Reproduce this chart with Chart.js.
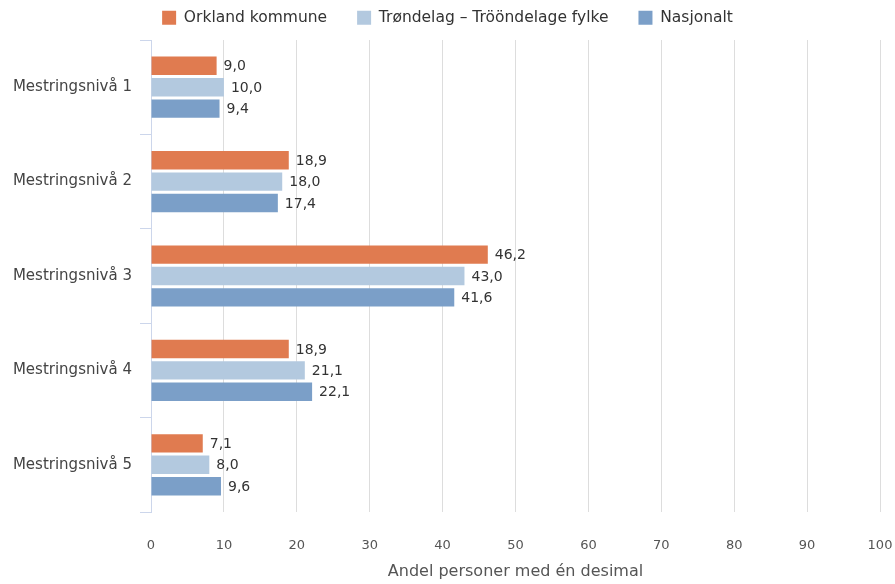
<!DOCTYPE html>
<html>
<head>
<meta charset="utf-8">
<script src="https://cdn.jsdelivr.net/npm/chart.js@4"></script>
<style>
  html, body { margin: 0; padding: 0; background: #fff; }
  #wrap { width: 895px; height: 584px; }
</style>
</head>
<body>
<div id="wrap"><canvas id="myChart"></canvas></div>
<script>
Chart.defaults.font.family = "'DejaVu Sans', Verdana, sans-serif";
Chart.defaults.font.size = 14;
Chart.defaults.color = '#444';

// data
const categories = ['Mestringsnivå 1', 'Mestringsnivå 2', 'Mestringsnivå 3', 'Mestringsnivå 4', 'Mestringsnivå 5'];
const orkland = [9.0, 18.9, 46.2, 18.9, 7.1];
const trondelag = [10.0, 18.0, 43.0, 21.1, 8.0];
const nasjonalt = [9.4, 17.4, 41.6, 22.1, 9.6];
const xTicks = [0, 10, 20, 30, 40, 50, 60, 70, 80, 90, 100];

// verdier ved enden av stolpene
const barLabels = {
    id: 'barLabels',
    afterDatasetsDraw(chart) {
        const c = chart.ctx;
        c.save();
        c.font = "14px 'DejaVu Sans', Verdana, sans-serif";
        c.fillStyle = '#333';
        c.textBaseline = 'middle';
        c.textAlign = 'left';
        chart.data.datasets.forEach((ds, i) => {
            chart.getDatasetMeta(i).data.forEach((bar, j) => {
                c.fillText(ds.data[j].toFixed(1).replace('.', ','), bar.x + 7, bar.y + 1);
            });
        });
        c.restore();
    }
};

// fast høyde på legend-boksen
const legendSpace = {
    id: 'legendSpace',
    beforeInit(chart) {
        const fit = chart.legend.fit;
        chart.legend.fit = function () {
            fit.bind(chart.legend)();
            this.height = 60;
        };
    }
};

var ctx = document.getElementById('myChart').getContext('2d');
var myChart = new Chart(ctx, {
    type: 'bar',
    data: {
        labels: categories,
        datasets: [{
            label: 'Orkland kommune',
            data: orkland,
            backgroundColor: '#E07B50'
        }, {
            label: 'Trøndelag – Trööndelage fylke',
            data: trondelag,
            backgroundColor: '#B3C9DF'
        }, {
            label: 'Nasjonalt',
            data: nasjonalt,
            backgroundColor: '#7B9FC8'
        }]
    },
    options: {
        indexAxis: 'y',
        responsive: true,
        maintainAspectRatio: false,
        animation: false,
        layout: { padding: { top: -20, right: 0, bottom: 0, left: 0 } },
        datasets: {
            bar: { categoryPercentage: 0.68, barPercentage: 0.86 }
        },
        plugins: {
            legend: {
                position: 'top',
                labels: {
                    boxWidth: 14,
                    boxHeight: 14,
                    padding: 30,
                    color: '#333',
                    font: { size: 15.5 }
                }
            },
            tooltip: { enabled: false }
        },
        scales: {
            x: {
                min: 0,
                max: 100,
                afterBuildTicks: (axis) => { axis.ticks = xTicks.map(v => ({ value: v })); },
                afterFit: (axis) => { axis.height = 72; axis.paddingRight = 15; },
                grid: { color: '#DDDDDD', drawTicks: false },
                border: { display: false },
                ticks: { padding: 26, color: '#555', font: { size: 13 } },
                title: {
                    display: true,
                    text: 'Andel personer med én desimal',
                    color: '#555',
                    font: { size: 16 },
                    padding: { top: 0, bottom: 3 }
                }
            },
            y: {
                afterFit: (axis) => { axis.width = 151; },
                grid: {
                    display: true,
                    offset: true,
                    drawOnChartArea: false,
                    color: '#CCD6EB',
                    tickLength: 11
                },
                border: { display: true, color: '#CCD6EB' },
                ticks: { color: '#444', padding: 8, font: { size: 15 } }
            }
        }
    },
    plugins: [barLabels, legendSpace]
});
</script>
</body>
</html>
